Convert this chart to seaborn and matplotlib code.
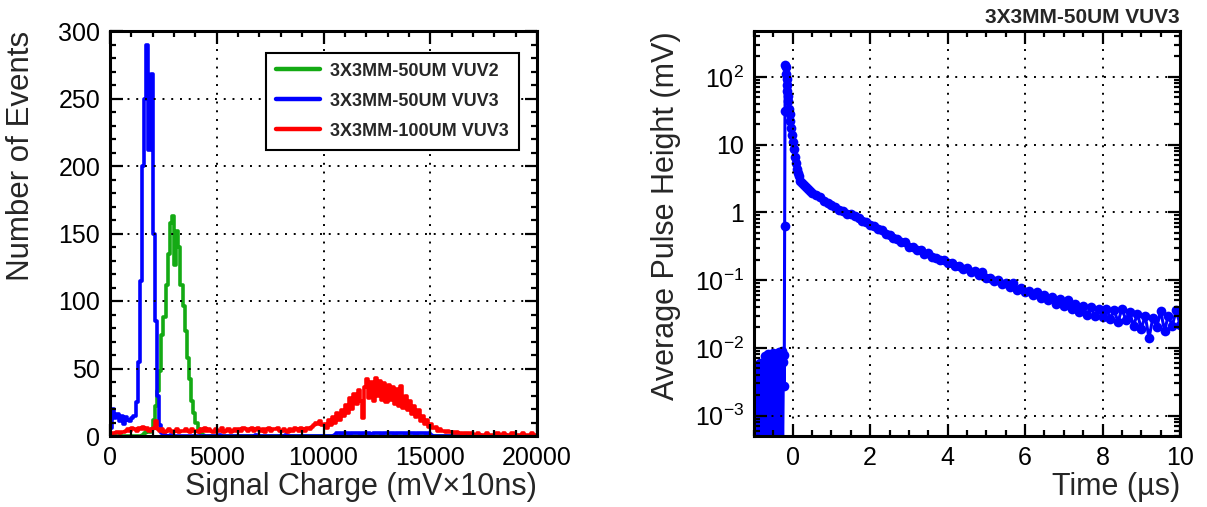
import numpy as np
import pandas as pd
import matplotlib.pyplot as plt
import seaborn as sns
from matplotlib.lines import Line2D
from matplotlib.ticker import MultipleLocator, FixedLocator, FixedFormatter, LogLocator, NullFormatter

# ============================================================================
# DATA
# ============================================================================

# left panel: charge histograms, 100 mV*10ns bins from 0 to 20000
bin_width = 100
charge_range = (0, 20000)
charge_centers = np.arange(charge_range[0], charge_range[1], bin_width) + bin_width / 2

counts_50um_vuv2 = [
    0, 0, 0, 0, 0, 0, 0, 0, 0, 0, 0, 0, 0, 0, 0, 1, 2, 4, 3, 5,
    12, 22, 33, 48, 75, 88, 112, 135, 158, 163, 127, 152, 140, 112, 96, 78, 58, 42, 26, 17,
    10, 5, 2, 1, 0, 0, 0, 0, 0, 0, 0, 0, 0, 0, 0, 0, 0, 0, 0, 0,
    0, 0, 0, 0, 0, 0, 0, 0, 0, 0, 0, 0, 0, 0, 0, 0, 0, 0, 0, 0,
    0, 0, 0, 0, 0, 0, 0, 0, 0, 0, 0, 0, 0, 0, 0, 0, 0, 0, 0, 0,
    0, 0, 0, 0, 0, 0, 0, 0, 0, 0, 0, 0, 0, 0, 0, 0, 0, 0, 0, 0,
    0, 0, 0, 0, 0, 0, 0, 0, 0, 0, 0, 0, 0, 0, 0, 0, 0, 0, 0, 0,
    0, 0, 0, 0, 0, 0, 0, 0, 0, 0, 0, 0, 0, 0, 0, 0, 0, 0, 0, 0,
    0, 0, 0, 0, 0, 0, 0, 0, 0, 0, 0, 0, 0, 0, 0, 0, 0, 0, 0, 0,
    0, 0, 0, 0, 0, 0, 0, 0, 0, 0, 0, 0, 0, 0, 0, 0, 0, 0, 0, 0,
]

counts_50um_vuv3 = [
    6, 20, 13, 16, 11, 15, 9, 14, 12, 11, 13, 15, 25, 55, 115, 200, 250, 290, 212, 268,
    150, 85, 30, 8, 2, 1, 0, 0, 1, 0, 0, 0, 0, 0, 0, 0, 0, 0, 0, 0,
    0, 0, 0, 0, 0, 0, 0, 0, 0, 0, 0, 1, 0, 0, 0, 0, 0, 0, 0, 0,
    0, 0, 0, 0, 0, 0, 0, 0, 1, 0, 0, 0, 0, 0, 0, 0, 0, 0, 0, 0,
    0, 0, 1, 0, 0, 0, 0, 0, 0, 0, 0, 0, 0, 0, 0, 0, 0, 0, 0, 0,
    0, 0, 0, 0, 0, 1, 2, 2, 1, 2, 2, 2, 1, 2, 2, 2, 2, 1, 2, 2,
    2, 2, 1, 2, 2, 2, 2, 1, 2, 2, 2, 2, 2, 1, 2, 2, 2, 2, 1, 2,
    2, 2, 2, 1, 2, 2, 2, 2, 1, 2, 1, 0, 0, 0, 0, 0, 0, 0, 0, 0,
    0, 0, 0, 0, 0, 0, 0, 0, 0, 0, 0, 0, 0, 1, 0, 0, 0, 0, 0, 0,
    0, 0, 0, 0, 0, 1, 0, 0, 0, 0, 0, 0, 0, 0, 0, 0, 0, 0, 0, 0,
]

counts_100um_vuv3 = [
    1, 2, 2, 3, 2, 3, 3, 4, 5, 4, 6, 5, 4, 6, 5, 7, 5, 6, 4, 5,
    6, 11, 5, 4, 5, 3, 4, 5, 4, 3, 4, 5, 3, 4, 4, 5, 4, 3, 5, 4,
    4, 3, 5, 4, 6, 4, 5, 4, 3, 5, 4, 4, 6, 3, 4, 5, 3, 4, 5, 4,
    5, 4, 6, 5, 4, 5, 6, 4, 5, 6, 4, 5, 3, 5, 6, 4, 5, 5, 6, 4,
    4, 5, 4, 3, 5, 4, 6, 5, 4, 6, 5, 4, 6, 5, 7, 8, 10, 9, 11, 8,
    9, 6, 12, 8, 14, 10, 17, 12, 19, 15, 23, 17, 28, 20, 31, 24, 34, 26, 13, 36,
    42, 28, 40, 26, 43, 30, 41, 27, 39, 25, 38, 27, 36, 24, 35, 22, 37, 21, 30, 19,
    26, 16, 22, 14, 19, 11, 15, 9, 12, 7, 9, 6, 7, 4, 5, 4, 4, 3, 4, 3,
    3, 2, 3, 2, 2, 1, 2, 2, 1, 2, 1, 1, 2, 1, 1, 1, 2, 1, 1, 1,
    1, 2, 1, 1, 2, 1, 1, 1, 2, 1, 1, 1, 1, 2, 1, 1, 1, 2, 1, 1,
]

hist_labels = ['3X3MM-50UM VUV2', '3X3MM-50UM VUV3', '3X3MM-100UM VUV3']
hist_colors = ['#14aa14', '#0000ff', '#ff0000']

# right panel: average waveform of 3X3MM-50UM VUV3
time_us = [
    -1.00, -0.98, -0.96, -0.94, -0.92, -0.90, -0.88, -0.86, -0.84, -0.82,
    -0.80, -0.78, -0.76, -0.74, -0.72, -0.70, -0.68, -0.66, -0.64, -0.62,
    -0.60, -0.58, -0.56, -0.54, -0.52, -0.50, -0.48, -0.46, -0.44, -0.42,
    -0.40, -0.38, -0.36, -0.34, -0.32, -0.30, -0.28, -0.26, -0.24, -0.23,
    -0.22, -0.21, -0.20, -0.19, -0.18, -0.17, -0.16, -0.15, -0.14, -0.13,
    -0.12, -0.10, -0.08, -0.06, -0.04, -0.02,
    0.0, 0.025, 0.05, 0.075, 0.1, 0.125, 0.15, 0.2, 0.25, 0.3, 0.35, 0.4, 0.45,
    0.5, 0.6, 0.7, 0.8, 0.9,
    1.0, 1.1, 1.2, 1.3, 1.4, 1.5, 1.6, 1.7, 1.8, 1.9,
    2.0, 2.1, 2.2, 2.3, 2.4, 2.5, 2.6, 2.7, 2.8, 2.9,
    3.0, 3.1, 3.2, 3.3, 3.4, 3.5, 3.6, 3.7, 3.8, 3.9,
    4.0, 4.1, 4.2, 4.3, 4.4, 4.5, 4.6, 4.7, 4.8, 4.9,
    5.0, 5.1, 5.2, 5.3, 5.4, 5.5, 5.6, 5.7, 5.8, 5.9,
    6.0, 6.1, 6.2, 6.3, 6.4, 6.5, 6.6, 6.7, 6.8, 6.9,
    7.0, 7.1, 7.2, 7.3, 7.4, 7.5, 7.6, 7.7, 7.8, 7.9,
    8.0, 8.1, 8.2, 8.3, 8.4, 8.5, 8.6, 8.7, 8.8, 8.9,
    9.0, 9.1, 9.2, 9.3, 9.4, 9.5, 9.6, 9.7, 9.8, 9.9, 10.0,
]
pulse_mV = [
    0.005, 0.0002, 0.004, 0.0003, 0.0055, 0.0001, 0.0035, 0.0004, 0.006, 0.0002,
    0.0048, 0.0001, 0.0058, 0.0003, 0.0075, 0.0002, 0.0065, 0.0004, 0.0082, 0.0001,
    0.007, 0.0003, 0.0078, 0.0002, 0.0085, 0.0001, 0.0072, 0.0003, 0.008, 0.0002,
    0.0068, 0.0004, 0.0088, 0.0001, 0.0076, 0.0002, 0.009, 0.0003, 0.0062, 0.0078,
    0.0027, 0.62, 31.0, 150.0, 140.0, 112.0, 92.0, 76.0, 62.0, 52.0,
    44.0, 34.0, 28.0, 22.0, 17.5, 14.0,
    11.0, 8.5, 6.6, 5.3, 4.4, 3.8, 3.4, 2.95, 2.7, 2.5, 2.35, 2.2, 2.08,
    1.96, 1.79, 1.66, 1.47, 1.39,
    1.27, 1.19, 1.09, 1.04, 0.96, 0.93, 0.87, 0.83, 0.75, 0.72,
    0.64, 0.62, 0.56, 0.54, 0.48, 0.47, 0.42, 0.41, 0.37, 0.36,
    0.31, 0.31, 0.28, 0.275, 0.245, 0.25, 0.22, 0.215, 0.195, 0.195,
    0.176, 0.178, 0.16, 0.163, 0.146, 0.149, 0.133, 0.135, 0.12, 0.13,
    0.106, 0.109, 0.097, 0.1, 0.088, 0.092, 0.08, 0.09, 0.072, 0.077,
    0.066, 0.07, 0.06, 0.066, 0.054, 0.06, 0.05, 0.056, 0.045, 0.053,
    0.042, 0.05, 0.038, 0.044, 0.034, 0.041, 0.031, 0.04, 0.03, 0.038,
    0.029, 0.038, 0.027, 0.036, 0.024, 0.038, 0.026, 0.034, 0.021, 0.032,
    0.019, 0.03, 0.014, 0.028, 0.02, 0.035, 0.018, 0.03, 0.021, 0.036, 0.022,
]

decade_ticks = [1e-3, 1e-2, 1e-1, 1, 10, 100]
decade_labels = ['$10^{-3}$', '$10^{-2}$', '$10^{-1}$', '1', '10', '$10^{2}$']

# ============================================================================
# STYLE
# ============================================================================

sns.set_theme(style='ticks')
plt.rcParams['font.family'] = ['Liberation Sans', 'DejaVu Sans']
plt.rcParams['mathtext.fontset'] = 'custom'
plt.rcParams['mathtext.rm'] = 'Liberation Sans'
plt.rcParams['mathtext.it'] = 'Liberation Sans'


def root_frame(ax):
    # ROOT-like frame: thick box, inward ticks on all sides, dotted grid
    for sp in ax.spines.values():
        sp.set_linewidth(2.2)
        sp.set_color('black')
        sp.set_visible(True)
    ax.tick_params(which='both', direction='in', top=True, right=True,
                   width=1.6, colors='black', labelsize=18)
    ax.tick_params(which='major', length=9, pad=7)
    ax.tick_params(which='minor', length=4.5)
    ax.grid(True, which='major', color='black', linestyle=(0, (1, 3.5)), linewidth=1.4)
    ax.set_axisbelow(False)
    ax.set_facecolor('white')


# ============================================================================
# PLOT
# ============================================================================

fig = plt.figure(figsize=(12.07, 5.07), dpi=100)
ax1 = fig.add_axes([110 / 1207, 71 / 507, 427 / 1207, 405 / 507])
ax2 = fig.add_axes([754 / 1207, 71 / 507, 426 / 1207, 405 / 507])

# left: histograms
for counts, col in zip([counts_50um_vuv2, counts_50um_vuv3, counts_100um_vuv3], hist_colors):
    df = pd.DataFrame({'charge': charge_centers, 'events': counts})
    sns.histplot(data=df, x='charge', weights='events', binwidth=bin_width,
                 binrange=charge_range, element='step', fill=False,
                 color=col, linewidth=2.6, ax=ax1)
ax1.set_xlim(0, 20000)
ax1.set_ylim(0, 300)
ax1.xaxis.set_major_locator(MultipleLocator(5000))
ax1.xaxis.set_minor_locator(MultipleLocator(1000))
ax1.yaxis.set_major_locator(MultipleLocator(50))
ax1.yaxis.set_minor_locator(MultipleLocator(10))
root_frame(ax1)
ax1.set_xlabel('Signal Charge (mV\u00d710ns)', fontsize=22, loc='right', labelpad=2)
ax1.set_ylabel('Number of Events', fontsize=22.5, loc='top', labelpad=16)

handles = [Line2D([], [], color=c, linewidth=3.2) for c in hist_colors]
leg = ax1.legend(handles, hist_labels, loc='upper right', bbox_to_anchor=(0.958, 0.946),
                 borderaxespad=0, frameon=True, fancybox=False, framealpha=1,
                 edgecolor='black', handlelength=2.4, labelspacing=0.72,
                 borderpad=0.55, handletextpad=0.6, prop={'weight': 'bold', 'size': 13})
leg.get_frame().set_linewidth(1.5)

# right: average pulse on log scale
sns.lineplot(x=time_us, y=pulse_mV, color='#0000ff', marker='o', markersize=7,
             markeredgewidth=0, linewidth=2.2, estimator=None, ax=ax2)
ax2.set_yscale('log', nonpositive='clip')
ax2.set_xlim(-1, 10)
ax2.set_ylim(5e-4, 475)
ax2.xaxis.set_major_locator(MultipleLocator(2))
ax2.xaxis.set_minor_locator(MultipleLocator(0.5))
ax2.yaxis.set_major_locator(FixedLocator(decade_ticks))
ax2.yaxis.set_major_formatter(FixedFormatter(decade_labels))
ax2.yaxis.set_minor_locator(LogLocator(base=10, subs=np.arange(2, 10), numticks=20))
ax2.yaxis.set_minor_formatter(NullFormatter())
root_frame(ax2)
ax2.set_xlabel('Time (\u00b5s)', fontsize=22, loc='right', labelpad=2)
ax2.set_ylabel('Average Pulse Height (mV)', fontsize=22, loc='top', labelpad=10)
ax2.set_title('3X3MM-50UM VUV3', loc='right', fontsize=15, fontweight='bold', pad=6)

plt.savefig('out.png', dpi=100)
